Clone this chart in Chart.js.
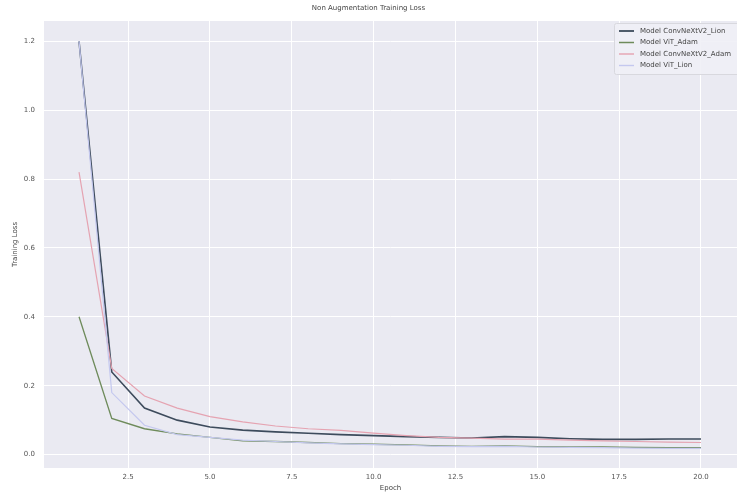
<!DOCTYPE html>
<html>
<head>
<meta charset="utf-8">
<script src="https://cdn.jsdelivr.net/npm/chart.js@4"></script>
<style>
  html, body { margin: 0; padding: 0; background: #ffffff; }
  #wrap { width: 737px; height: 494px; }
</style>
</head>
<body>
<div id="wrap"><canvas id="lossChart"></canvas></div>
<script>
const epochs = [1, 2, 3, 4, 5, 6, 7, 8, 9, 10, 11, 12, 13, 14, 15, 16, 17, 18, 19, 20];
const convnextLion = [1.2, 0.24, 0.135, 0.1, 0.08, 0.071, 0.066, 0.062, 0.058, 0.055, 0.052, 0.05, 0.048, 0.052, 0.05, 0.046, 0.044, 0.044, 0.045, 0.045];
const vitAdam = [0.4, 0.105, 0.075, 0.06, 0.05, 0.04, 0.038, 0.035, 0.032, 0.03, 0.028, 0.025, 0.024, 0.025, 0.023, 0.022, 0.022, 0.021, 0.02, 0.02];
const convnextAdam = [0.82, 0.25, 0.17, 0.135, 0.11, 0.095, 0.083, 0.075, 0.07, 0.062, 0.055, 0.05, 0.048, 0.045, 0.045, 0.042, 0.04, 0.038, 0.036, 0.035];
const vitLion = [1.2, 0.18, 0.085, 0.058, 0.05, 0.042, 0.038, 0.034, 0.031, 0.029, 0.027, 0.024, 0.023, 0.024, 0.022, 0.021, 0.02, 0.019, 0.018, 0.018];
const seriesNames = ['Model ConvNeXtV2_Lion', 'Model ViT_Adam', 'Model ConvNeXtV2_Adam', 'Model ViT_Lion'];
const xTicks = [2.5, 5.0, 7.5, 10.0, 12.5, 15.0, 17.5, 20.0];
const yTicks = [0.0, 0.2, 0.4, 0.6, 0.8, 1.0, 1.2];

const colors = ['#3d4b5c', '#6e8b5b', '#e5a3b1', '#c4c8ef'];
const widths = [1.6, 1.3, 1.2, 1.2];
const tickFont = { family: 'DejaVu Sans', size: 7 };

const toPoints = (values) => values.map((v, i) => ({ x: epochs[i], y: v }));

// draws the grey axes face behind the grid
const axesFace = {
	id: 'axesFace',
	beforeDraw(chart) {
		const { ctx, chartArea } = chart;
		ctx.save();
		ctx.fillStyle = '#eaeaf2';
		ctx.fillRect(chartArea.left, chartArea.top, chartArea.right - chartArea.left, chartArea.bottom - chartArea.top);
		ctx.restore();
	},
};

// matplotlib-like legend box in the upper right corner
const boxLegend = {
	id: 'boxLegend',
	afterDraw(chart) {
		const { ctx } = chart;
		const x0 = 614;
		const y0 = 23;
		const rowH = 11.5;
		ctx.save();
		ctx.fillStyle = 'rgba(240,240,246,0.9)';
		ctx.strokeStyle = '#d8d8de';
		ctx.lineWidth = 1;
		ctx.beginPath();
		ctx.roundRect(x0 + 0.5, y0 + 0.5, 140, 51, 2);
		ctx.fill();
		ctx.stroke();
		ctx.font = '7px "DejaVu Sans"';
		ctx.textBaseline = 'middle';
		chart.data.datasets.forEach((ds, i) => {
			const y = y0 + 8 + i * rowH;
			ctx.strokeStyle = colors[i];
			ctx.lineWidth = widths[i] + 0.2;
			ctx.beginPath();
			ctx.moveTo(x0 + 5, y);
			ctx.lineTo(x0 + 20, y);
			ctx.stroke();
			ctx.fillStyle = '#444444';
			ctx.fillText(ds.label, x0 + 26, y);
		});
		ctx.restore();
	},
};

new Chart(document.getElementById('lossChart'), {
	type: 'line',
	data: {
		datasets: [convnextLion, vitAdam, convnextAdam, vitLion].map((values, i) => ({
			label: seriesNames[i],
			data: toPoints(values),
			borderColor: colors[i],
			backgroundColor: colors[i],
			borderWidth: widths[i],
			pointRadius: 0,
			tension: 0,
			order: 3 - i,
		})),
	},
	options: {
		responsive: true,
		maintainAspectRatio: false,
		animation: false,
		layout: { padding: { left: 0, right: 0, top: 0, bottom: 0 } },
		scales: {
			x: {
				type: 'linear',
				min: -0.07,
				max: 21.1,
				afterBuildTicks: (axis) => {
					axis.ticks = xTicks.map((v) => ({ value: v }));
				},
				afterFit: (axis) => {
					axis.height = 26;
				},
				grid: { color: '#ffffff', lineWidth: 1, drawTicks: false },
				border: { display: false },
				ticks: {
					font: tickFont,
					color: '#555555',
					padding: 5,
					maxRotation: 0,
					callback: (v) => Number(v).toFixed(1),
				},
				title: {
					display: true,
					text: 'Epoch',
					font: tickFont,
					color: '#444444',
					padding: { top: 0, bottom: 2 },
				},
			},
			y: {
				min: -0.039,
				max: 1.259,
				afterBuildTicks: (axis) => {
					axis.ticks = yTicks.map((v) => ({ value: v }));
				},
				afterFit: (axis) => {
					axis.width = 44;
				},
				grid: { color: '#ffffff', lineWidth: 1, drawTicks: false },
				border: { display: false },
				ticks: {
					font: tickFont,
					color: '#555555',
					padding: 9,
					callback: (v) => Number(v).toFixed(1),
				},
				title: {
					display: true,
					text: 'Training Loss',
					font: tickFont,
					color: '#444444',
					padding: { top: 11, bottom: 0 },
				},
			},
		},
		plugins: {
			title: {
				display: true,
				text: 'Non Augmentation Training Loss',
				font: { family: 'DejaVu Sans', size: 7, weight: 'normal' },
				color: '#444444',
				padding: { top: 4, bottom: 8.6 },
			},
			legend: { display: false },
			tooltip: { enabled: false },
		},
	},
	plugins: [axesFace, boxLegend],
});
</script>
</body>
</html>
